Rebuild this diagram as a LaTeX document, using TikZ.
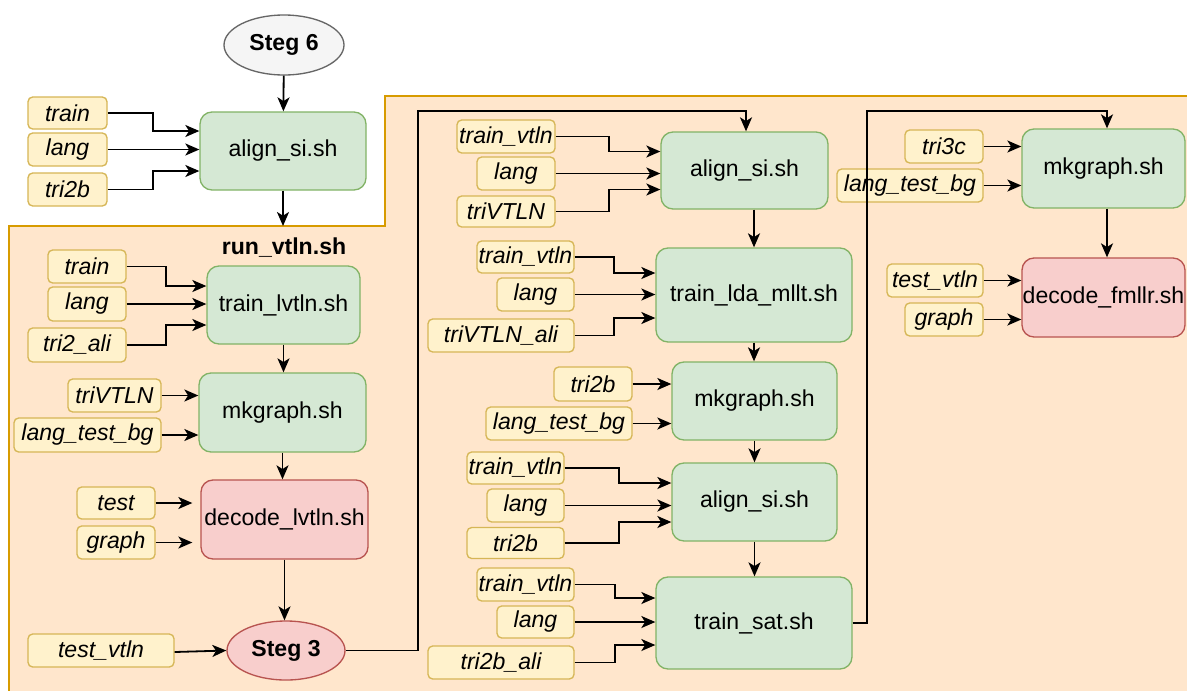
\documentclass[tikz,border=0pt]{standalone}
\usepackage{fontspec}
\setmainfont{Liberation Sans}
\usetikzlibrary{arrows.meta,calc,shapes.geometric}

\definecolor{grnF}{HTML}{D5E8D4}
\definecolor{grnD}{HTML}{82B366}
\definecolor{redF}{HTML}{F8CECC}
\definecolor{redD}{HTML}{B85450}
\definecolor{yelF}{HTML}{FFF2CC}
\definecolor{yelD}{HTML}{D6B656}
\definecolor{orgF}{HTML}{FFE6CC}
\definecolor{orgD}{HTML}{D79B00}
\definecolor{gryF}{HTML}{F5F5F5}
\definecolor{gryD}{HTML}{666666}

\newcommand\fs{\fontsize{17.3}{20}\selectfont}
% input box -> process box, bent at x = #3, entering #4 px off the centre line
\newcommand\inelbow[4]{\draw[arr] (#1.east) -- (#1.east -| #3,0) |- ($(#2.west)+(0,#4)$);}
% input box -> process box, straight
\newcommand\instraight[2]{\draw[arr] (#1.east) -- (#1.east -| #2.west);}

\begin{document}
\begin{tikzpicture}[x=0.75pt,y=-0.75pt,
  sz/.style 2 args={minimum width=#1*0.75pt, minimum height=#2*0.75pt},
  proc/.style={draw=grnD, fill=grnF, rounded corners=9pt, inner sep=0pt, line width=1pt, font=\fs},
  fail/.style={draw=redD, fill=redF, rounded corners=9pt, inner sep=0pt, line width=1pt, font=\fs},
  inp/.style={draw=yelD, fill=yelF, rounded corners=3.5pt, inner sep=0pt, line width=1pt, font=\fs\itshape},
  term/.style={ellipse, inner sep=0pt, line width=1pt, font=\fs\bfseries},
  arr/.style={line width=1.35pt, -{Stealth[length=10.5pt,width=9pt,inset=2.8pt]}}]

\clip (0,0) rectangle (1187,690);
\fill[white] (0,0) rectangle (1187,690);

% run_vtln.sh group background
\filldraw[fill=orgF, draw=orgD, line width=1.1pt]
  (385,96) -- (1200,96) -- (1200,700) -- (9,700) -- (9,226) -- (385,226) -- cycle;
\node[font=\fs\bfseries] (runlbl) at (284,248) {run\_vtln.sh};
\coordinate (grp) at (283,226);

% ---------- step 6 ----------
\node[term, draw=gryD, fill=gryF, sz={120}{60}] (steg6) at (284,45) {Steg 6};
\node[proc, sz={166}{78}] (a1) at (283,151) {align\_si.sh};
\node[inp, sz={79}{32}] (i1a) at (67.5,113) {train};
\node[inp, sz={79}{33}] (i1b) at (67.5,149.5) {lang};
\node[inp, sz={79}{33}] (i1c) at (67.5,189.5) {tri2b};

% ---------- left column ----------
\node[proc, sz={153}{78}] (b1) at (283.5,305) {train\_lvtln.sh};
\node[inp, sz={78}{33}] (i2a) at (87,266.5) {train};
\node[inp, sz={78}{34}] (i2b) at (87,304) {lang};
\node[inp, sz={98}{34}] (i2c) at (77,345) {tri2\_ali};

\node[proc, sz={167}{79}] (b2) at (282.5,412.5) {mkgraph.sh};
\node[inp, sz={93}{33}] (i3a) at (114.5,395.5) {triVTLN};
\node[inp, sz={147}{34}] (i3b) at (87.5,435) {lang\_test\_bg};

\node[fail, sz={167}{79}] (b3) at (284.5,519.5) {decode\_lvtln.sh};
\node[inp, sz={78}{32}] (i4a) at (116,503) {test};
\node[inp, sz={78}{33}] (i4b) at (116,542.5) {graph};

\node[term, draw=redD, fill=redF, sz={118}{59}] (steg3) at (286,650.5) {Steg 3};
\node[inp, sz={146}{33}] (i5) at (101,650.5) {test\_vtln};

% ---------- middle column ----------
\node[proc, sz={167}{77}] (c1) at (744.5,170.5) {align\_si.sh};
\node[inp, sz={98}{33}] (j1a) at (506,136.5) {train\_vtln};
\node[inp, sz={78}{33}] (j1b) at (516,173.5) {lang};
\node[inp, sz={98}{31}] (j1c) at (506,211.5) {triVTLN};

\node[proc, sz={196}{94}] (c2) at (754,295) {train\_lda\_mllt.sh};
\node[inp, sz={97}{32}] (j2a) at (525.5,257) {train\_vtln};
\node[inp, sz={77}{33}] (j2b) at (535.5,294.5) {lang};
\node[inp, sz={146}{33}] (j2c) at (501,335.5) {triVTLN\_ali};

\node[proc, sz={165}{78}] (c3) at (754.5,401) {mkgraph.sh};
\node[inp, sz={78}{34}] (j3a) at (593,384) {tri2b};
\node[inp, sz={146}{33}] (j3b) at (559,423.5) {lang\_test\_bg};

\node[proc, sz={165}{78}] (c4) at (754.5,502) {align\_si.sh};
\node[inp, sz={97}{32}] (j4a) at (515.5,468) {train\_vtln};
\node[inp, sz={77}{33}] (j4b) at (525.5,505.5) {lang};
\node[inp, sz={97}{31}] (j4c) at (515.5,543) {tri2b};

\node[proc, sz={196}{92}] (c5) at (754,623) {train\_sat.sh};
\node[inp, sz={97}{33}] (j5a) at (525.5,584.5) {train\_vtln};
\node[inp, sz={77}{32}] (j5b) at (535.5,622) {lang};
\node[inp, sz={146}{33}] (j5c) at (501,662.5) {tri2b\_ali};

% ---------- right column ----------
\node[proc, sz={163}{79}] (d1) at (1103.5,168.5) {mkgraph.sh};
\node[inp, sz={78}{33}] (k1a) at (944,146.5) {tri3c};
\node[inp, sz={146}{33}] (k1b) at (910,185.5) {lang\_test\_bg};

\node[fail, sz={163}{79}] (d2) at (1103.5,297.5) {decode\_fmllr.sh};
\node[inp, sz={96}{33}] (k2a) at (935,280.5) {test\_vtln};
\node[inp, sz={78}{33}] (k2b) at (944,319.5) {graph};

% ---------- connectors ----------
\draw[arr] (steg6) -- (a1);
\draw[arr] (a1.south) -- (grp);
\inelbow{i1a}{a1}{153}{-20}
\instraight{i1b}{a1}
\inelbow{i1c}{a1}{153}{20}

\inelbow{i2a}{b1}{166}{-19}
\instraight{i2b}{b1}
\inelbow{i2c}{b1}{166}{20}
\draw[arr] (b1.south) -- (b1.south |- b2.north);
\instraight{i3a}{b2}
\instraight{i3b}{b2}
\draw[arr] (b2.south) -- (b2.south |- b3.north);
\draw[arr, shorten >=6pt] (i4a.east) -- (i4a.east -| b3.west);
\draw[arr, shorten >=6pt] (i4b.east) -- (i4b.east -| b3.west);
\draw[arr] (b3.south) -- (b3.south |- steg3.north);
\draw[arr] ($(i5.east)+(0,1.5)$) -- (steg3.west);

\draw[arr] (steg3.east) -- (steg3.east -| 418,0) |- (746,111) -- (c1.north -| 746,0);
\inelbow{j1a}{c1}{609}{-19}
\instraight{j1b}{c1}
\inelbow{j1c}{c1}{609}{19}
\draw[arr] (c2.north |- c1.south) -- (c2.north);
\inelbow{j2a}{c2}{614}{-22}
\instraight{j2b}{c2}
\inelbow{j2c}{c2}{614}{23}
\draw[arr] (c2.south) -- (c2.south |- c3.north);
\instraight{j3a}{c3}
\instraight{j3b}{c3}
\draw[arr] (c3.south) -- (c3.south |- c4.north);
\inelbow{j4a}{c4}{619}{-19}
\instraight{j4b}{c4}
\inelbow{j4c}{c4}{619}{20}
\draw[arr] (c4.south) -- (c4.south |- c5.north);
\inelbow{j5a}{c5}{615}{-25}
\instraight{j5b}{c5}
\inelbow{j5c}{c5}{615}{22}

\draw[arr] (c5.east) -- (c5.east -| 867,0) |- (1107,111) -- (d1.north -| 1107,0);
\instraight{k1a}{d1}
\instraight{k1b}{d1}
\draw[arr] (d1.south -| 1107,0) -- (d2.north -| 1107,0);
\instraight{k2a}{d2}
\instraight{k2b}{d2}
\end{tikzpicture}
\end{document}
